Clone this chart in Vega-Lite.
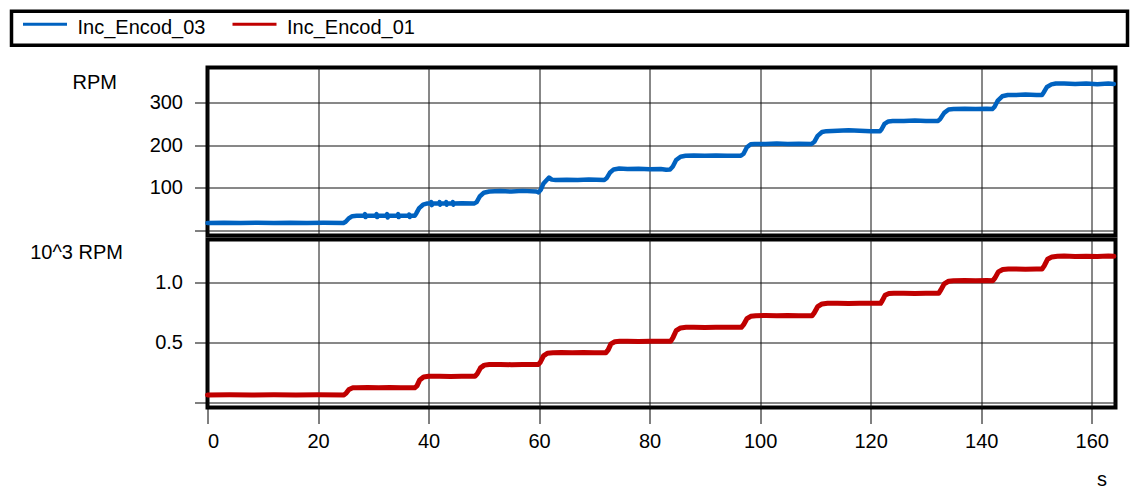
{
  "$schema": "https://vega.github.io/schema/vega-lite/v6.json",
  "padding": {"left": 9.5, "top": 9.5, "right": 0, "bottom": 0},
  "background": "white",
  "config": {
    "font": "Liberation Sans",
    "view": {"stroke": "#000", "strokeWidth": 4},
    "axis": {
      "labelFont": "Liberation Sans", "labelFontSize": 20, "labelColor": "#000",
      "titleFont": "Liberation Sans", "titleFontSize": 20, "titleFontWeight": "normal", "titleColor": "#000",
      "tickColor": "#000", "tickWidth": 1, "gridColor": "#111", "gridOpacity": 1, "gridWidth": 1,
      "domain": false
    },
    "legend": {
      "labelFont": "Liberation Sans", "labelFontSize": 20, "labelColor": "#000",
      "titleFont": "Liberation Sans", "titleFontSize": 20
    },
    "concat": {"spacing": 0}
  },
  "datasets": {
    "enc03": [
      {"series": "Inc_Encod_03", "t": 0, "rpm": 17}, {"series": "Inc_Encod_03", "t": 3, "rpm": 17.5}, {"series": "Inc_Encod_03", "t": 6, "rpm": 16.8}, {"series": "Inc_Encod_03", "t": 9, "rpm": 17.4}, {"series": "Inc_Encod_03", "t": 12, "rpm": 17}, {"series": "Inc_Encod_03", "t": 15, "rpm": 17.6}, {"series": "Inc_Encod_03", "t": 18, "rpm": 16.9}, {"series": "Inc_Encod_03", "t": 21, "rpm": 17.3}, {"series": "Inc_Encod_03", "t": 24.6, "rpm": 17},
      {"series": "Inc_Encod_03", "t": 25.0, "rpm": 20}, {"series": "Inc_Encod_03", "t": 25.5, "rpm": 27}, {"series": "Inc_Encod_03", "t": 26.2, "rpm": 33}, {"series": "Inc_Encod_03", "t": 27, "rpm": 34},
      {"series": "Inc_Encod_03", "t": 28.4, "rpm": 34}, {"series": "Inc_Encod_03", "t": 28.5, "rpm": 38}, {"series": "Inc_Encod_03", "t": 28.6, "rpm": 31}, {"series": "Inc_Encod_03", "t": 28.7, "rpm": 34},
      {"series": "Inc_Encod_03", "t": 30.5, "rpm": 34}, {"series": "Inc_Encod_03", "t": 30.6, "rpm": 38}, {"series": "Inc_Encod_03", "t": 30.7, "rpm": 31}, {"series": "Inc_Encod_03", "t": 30.8, "rpm": 34},
      {"series": "Inc_Encod_03", "t": 32.4, "rpm": 34}, {"series": "Inc_Encod_03", "t": 32.5, "rpm": 38}, {"series": "Inc_Encod_03", "t": 32.6, "rpm": 30}, {"series": "Inc_Encod_03", "t": 32.7, "rpm": 34},
      {"series": "Inc_Encod_03", "t": 34.4, "rpm": 34.5}, {"series": "Inc_Encod_03", "t": 34.5, "rpm": 38}, {"series": "Inc_Encod_03", "t": 34.6, "rpm": 31}, {"series": "Inc_Encod_03", "t": 34.7, "rpm": 34},
      {"series": "Inc_Encod_03", "t": 36.4, "rpm": 34}, {"series": "Inc_Encod_03", "t": 36.5, "rpm": 37}, {"series": "Inc_Encod_03", "t": 36.6, "rpm": 31}, {"series": "Inc_Encod_03", "t": 36.7, "rpm": 34}, {"series": "Inc_Encod_03", "t": 37.5, "rpm": 34},
      {"series": "Inc_Encod_03", "t": 37.8, "rpm": 40}, {"series": "Inc_Encod_03", "t": 38.3, "rpm": 52}, {"series": "Inc_Encod_03", "t": 39, "rpm": 60}, {"series": "Inc_Encod_03", "t": 39.8, "rpm": 63},
      {"series": "Inc_Encod_03", "t": 40.4, "rpm": 63}, {"series": "Inc_Encod_03", "t": 40.5, "rpm": 66}, {"series": "Inc_Encod_03", "t": 40.6, "rpm": 59}, {"series": "Inc_Encod_03", "t": 40.7, "rpm": 63},
      {"series": "Inc_Encod_03", "t": 41.9, "rpm": 63}, {"series": "Inc_Encod_03", "t": 42, "rpm": 66}, {"series": "Inc_Encod_03", "t": 42.1, "rpm": 60}, {"series": "Inc_Encod_03", "t": 42.2, "rpm": 63},
      {"series": "Inc_Encod_03", "t": 43.1, "rpm": 63}, {"series": "Inc_Encod_03", "t": 43.2, "rpm": 66}, {"series": "Inc_Encod_03", "t": 43.3, "rpm": 60}, {"series": "Inc_Encod_03", "t": 43.4, "rpm": 63},
      {"series": "Inc_Encod_03", "t": 44.3, "rpm": 63}, {"series": "Inc_Encod_03", "t": 44.4, "rpm": 66}, {"series": "Inc_Encod_03", "t": 44.5, "rpm": 60}, {"series": "Inc_Encod_03", "t": 44.6, "rpm": 63},
      {"series": "Inc_Encod_03", "t": 46, "rpm": 63.5}, {"series": "Inc_Encod_03", "t": 48.3, "rpm": 63},
      {"series": "Inc_Encod_03", "t": 48.7, "rpm": 66}, {"series": "Inc_Encod_03", "t": 49.3, "rpm": 80}, {"series": "Inc_Encod_03", "t": 50, "rpm": 88}, {"series": "Inc_Encod_03", "t": 51, "rpm": 91},
      {"series": "Inc_Encod_03", "t": 53, "rpm": 92}, {"series": "Inc_Encod_03", "t": 55, "rpm": 91}, {"series": "Inc_Encod_03", "t": 57, "rpm": 92.5}, {"series": "Inc_Encod_03", "t": 59.5, "rpm": 91}, {"series": "Inc_Encod_03", "t": 59.9, "rpm": 89},
      {"series": "Inc_Encod_03", "t": 60.3, "rpm": 95}, {"series": "Inc_Encod_03", "t": 60.8, "rpm": 110}, {"series": "Inc_Encod_03", "t": 61.3, "rpm": 117}, {"series": "Inc_Encod_03", "t": 61.8, "rpm": 124}, {"series": "Inc_Encod_03", "t": 62.3, "rpm": 119},
      {"series": "Inc_Encod_03", "t": 63, "rpm": 118}, {"series": "Inc_Encod_03", "t": 65, "rpm": 118.5}, {"series": "Inc_Encod_03", "t": 67, "rpm": 118}, {"series": "Inc_Encod_03", "t": 69, "rpm": 119}, {"series": "Inc_Encod_03", "t": 71.8, "rpm": 118},
      {"series": "Inc_Encod_03", "t": 72.2, "rpm": 122}, {"series": "Inc_Encod_03", "t": 72.8, "rpm": 135}, {"series": "Inc_Encod_03", "t": 73.5, "rpm": 143}, {"series": "Inc_Encod_03", "t": 74.5, "rpm": 145},
      {"series": "Inc_Encod_03", "t": 76, "rpm": 144}, {"series": "Inc_Encod_03", "t": 78, "rpm": 144.5}, {"series": "Inc_Encod_03", "t": 80, "rpm": 143.5}, {"series": "Inc_Encod_03", "t": 82, "rpm": 144}, {"series": "Inc_Encod_03", "t": 83, "rpm": 142}, {"series": "Inc_Encod_03", "t": 83.7, "rpm": 143},
      {"series": "Inc_Encod_03", "t": 84.2, "rpm": 150}, {"series": "Inc_Encod_03", "t": 84.8, "rpm": 165}, {"series": "Inc_Encod_03", "t": 85.6, "rpm": 173}, {"series": "Inc_Encod_03", "t": 86.5, "rpm": 175},
      {"series": "Inc_Encod_03", "t": 88, "rpm": 176}, {"series": "Inc_Encod_03", "t": 90, "rpm": 175}, {"series": "Inc_Encod_03", "t": 92, "rpm": 176}, {"series": "Inc_Encod_03", "t": 94, "rpm": 175}, {"series": "Inc_Encod_03", "t": 96.5, "rpm": 175},
      {"series": "Inc_Encod_03", "t": 97, "rpm": 180}, {"series": "Inc_Encod_03", "t": 97.6, "rpm": 195}, {"series": "Inc_Encod_03", "t": 98.3, "rpm": 202}, {"series": "Inc_Encod_03", "t": 99, "rpm": 203},
      {"series": "Inc_Encod_03", "t": 101, "rpm": 203}, {"series": "Inc_Encod_03", "t": 103, "rpm": 204}, {"series": "Inc_Encod_03", "t": 105, "rpm": 203}, {"series": "Inc_Encod_03", "t": 107, "rpm": 203.5}, {"series": "Inc_Encod_03", "t": 109.3, "rpm": 203},
      {"series": "Inc_Encod_03", "t": 109.8, "rpm": 208}, {"series": "Inc_Encod_03", "t": 110.4, "rpm": 222}, {"series": "Inc_Encod_03", "t": 111.2, "rpm": 231}, {"series": "Inc_Encod_03", "t": 112, "rpm": 233},
      {"series": "Inc_Encod_03", "t": 114, "rpm": 234}, {"series": "Inc_Encod_03", "t": 116, "rpm": 235}, {"series": "Inc_Encod_03", "t": 118, "rpm": 234}, {"series": "Inc_Encod_03", "t": 120, "rpm": 233}, {"series": "Inc_Encod_03", "t": 121.7, "rpm": 233},
      {"series": "Inc_Encod_03", "t": 122, "rpm": 238}, {"series": "Inc_Encod_03", "t": 122.5, "rpm": 250}, {"series": "Inc_Encod_03", "t": 123.2, "rpm": 256}, {"series": "Inc_Encod_03", "t": 124, "rpm": 257},
      {"series": "Inc_Encod_03", "t": 126, "rpm": 257}, {"series": "Inc_Encod_03", "t": 128, "rpm": 258}, {"series": "Inc_Encod_03", "t": 130, "rpm": 257}, {"series": "Inc_Encod_03", "t": 132.2, "rpm": 257},
      {"series": "Inc_Encod_03", "t": 132.6, "rpm": 262}, {"series": "Inc_Encod_03", "t": 133.3, "rpm": 276}, {"series": "Inc_Encod_03", "t": 134.1, "rpm": 284}, {"series": "Inc_Encod_03", "t": 135, "rpm": 285},
      {"series": "Inc_Encod_03", "t": 137, "rpm": 286}, {"series": "Inc_Encod_03", "t": 139, "rpm": 285}, {"series": "Inc_Encod_03", "t": 141, "rpm": 285.5}, {"series": "Inc_Encod_03", "t": 142, "rpm": 285},
      {"series": "Inc_Encod_03", "t": 142.4, "rpm": 290}, {"series": "Inc_Encod_03", "t": 143, "rpm": 305}, {"series": "Inc_Encod_03", "t": 143.8, "rpm": 315}, {"series": "Inc_Encod_03", "t": 144.8, "rpm": 318},
      {"series": "Inc_Encod_03", "t": 146, "rpm": 318}, {"series": "Inc_Encod_03", "t": 148, "rpm": 319}, {"series": "Inc_Encod_03", "t": 150, "rpm": 318}, {"series": "Inc_Encod_03", "t": 151, "rpm": 318},
      {"series": "Inc_Encod_03", "t": 151.3, "rpm": 324}, {"series": "Inc_Encod_03", "t": 151.9, "rpm": 337}, {"series": "Inc_Encod_03", "t": 152.7, "rpm": 343}, {"series": "Inc_Encod_03", "t": 153.5, "rpm": 345},
      {"series": "Inc_Encod_03", "t": 155, "rpm": 345}, {"series": "Inc_Encod_03", "t": 157, "rpm": 344}, {"series": "Inc_Encod_03", "t": 159, "rpm": 345}, {"series": "Inc_Encod_03", "t": 161, "rpm": 343.5}, {"series": "Inc_Encod_03", "t": 163, "rpm": 345}, {"series": "Inc_Encod_03", "t": 164, "rpm": 344}
    ],
    "enc01": [
      {"series": "Inc_Encod_01", "t": 0, "krpm": 0.065}, {"series": "Inc_Encod_01", "t": 4, "krpm": 0.066}, {"series": "Inc_Encod_01", "t": 8, "krpm": 0.064}, {"series": "Inc_Encod_01", "t": 12, "krpm": 0.066}, {"series": "Inc_Encod_01", "t": 16, "krpm": 0.065}, {"series": "Inc_Encod_01", "t": 20, "krpm": 0.066}, {"series": "Inc_Encod_01", "t": 24.7, "krpm": 0.065},
      {"series": "Inc_Encod_01", "t": 25.1, "krpm": 0.08}, {"series": "Inc_Encod_01", "t": 25.6, "krpm": 0.11}, {"series": "Inc_Encod_01", "t": 26.3, "krpm": 0.124}, {"series": "Inc_Encod_01", "t": 27, "krpm": 0.125},
      {"series": "Inc_Encod_01", "t": 29, "krpm": 0.126}, {"series": "Inc_Encod_01", "t": 31, "krpm": 0.124}, {"series": "Inc_Encod_01", "t": 33, "krpm": 0.126}, {"series": "Inc_Encod_01", "t": 35, "krpm": 0.125}, {"series": "Inc_Encod_01", "t": 37.5, "krpm": 0.125},
      {"series": "Inc_Encod_01", "t": 37.9, "krpm": 0.14}, {"series": "Inc_Encod_01", "t": 38.4, "krpm": 0.19}, {"series": "Inc_Encod_01", "t": 39.1, "krpm": 0.215}, {"series": "Inc_Encod_01", "t": 40, "krpm": 0.22},
      {"series": "Inc_Encod_01", "t": 42, "krpm": 0.221}, {"series": "Inc_Encod_01", "t": 44, "krpm": 0.219}, {"series": "Inc_Encod_01", "t": 46, "krpm": 0.221}, {"series": "Inc_Encod_01", "t": 48.4, "krpm": 0.22},
      {"series": "Inc_Encod_01", "t": 48.8, "krpm": 0.24}, {"series": "Inc_Encod_01", "t": 49.4, "krpm": 0.29}, {"series": "Inc_Encod_01", "t": 50.1, "krpm": 0.313}, {"series": "Inc_Encod_01", "t": 51, "krpm": 0.318},
      {"series": "Inc_Encod_01", "t": 53, "krpm": 0.319}, {"series": "Inc_Encod_01", "t": 55, "krpm": 0.317}, {"series": "Inc_Encod_01", "t": 57, "krpm": 0.319}, {"series": "Inc_Encod_01", "t": 59.8, "krpm": 0.318},
      {"series": "Inc_Encod_01", "t": 60.2, "krpm": 0.335}, {"series": "Inc_Encod_01", "t": 60.8, "krpm": 0.39}, {"series": "Inc_Encod_01", "t": 61.5, "krpm": 0.412}, {"series": "Inc_Encod_01", "t": 62.5, "krpm": 0.417},
      {"series": "Inc_Encod_01", "t": 64, "krpm": 0.418}, {"series": "Inc_Encod_01", "t": 66, "krpm": 0.416}, {"series": "Inc_Encod_01", "t": 68, "krpm": 0.418}, {"series": "Inc_Encod_01", "t": 70, "krpm": 0.417}, {"series": "Inc_Encod_01", "t": 72.1, "krpm": 0.417},
      {"series": "Inc_Encod_01", "t": 72.5, "krpm": 0.44}, {"series": "Inc_Encod_01", "t": 73, "krpm": 0.49}, {"series": "Inc_Encod_01", "t": 73.7, "krpm": 0.508}, {"series": "Inc_Encod_01", "t": 74.6, "krpm": 0.512},
      {"series": "Inc_Encod_01", "t": 76, "krpm": 0.513}, {"series": "Inc_Encod_01", "t": 78, "krpm": 0.511}, {"series": "Inc_Encod_01", "t": 80, "krpm": 0.513}, {"series": "Inc_Encod_01", "t": 82, "krpm": 0.512}, {"series": "Inc_Encod_01", "t": 83.8, "krpm": 0.512},
      {"series": "Inc_Encod_01", "t": 84.2, "krpm": 0.54}, {"series": "Inc_Encod_01", "t": 84.8, "krpm": 0.6}, {"series": "Inc_Encod_01", "t": 85.6, "krpm": 0.623}, {"series": "Inc_Encod_01", "t": 86.6, "krpm": 0.628},
      {"series": "Inc_Encod_01", "t": 88, "krpm": 0.629}, {"series": "Inc_Encod_01", "t": 90, "krpm": 0.627}, {"series": "Inc_Encod_01", "t": 92, "krpm": 0.629}, {"series": "Inc_Encod_01", "t": 94, "krpm": 0.628}, {"series": "Inc_Encod_01", "t": 96.6, "krpm": 0.628},
      {"series": "Inc_Encod_01", "t": 97, "krpm": 0.65}, {"series": "Inc_Encod_01", "t": 97.6, "krpm": 0.7}, {"series": "Inc_Encod_01", "t": 98.3, "krpm": 0.72}, {"series": "Inc_Encod_01", "t": 99.2, "krpm": 0.725},
      {"series": "Inc_Encod_01", "t": 101, "krpm": 0.726}, {"series": "Inc_Encod_01", "t": 103, "krpm": 0.724}, {"series": "Inc_Encod_01", "t": 105, "krpm": 0.726}, {"series": "Inc_Encod_01", "t": 107, "krpm": 0.725}, {"series": "Inc_Encod_01", "t": 109.4, "krpm": 0.725},
      {"series": "Inc_Encod_01", "t": 109.8, "krpm": 0.75}, {"series": "Inc_Encod_01", "t": 110.4, "krpm": 0.8}, {"series": "Inc_Encod_01", "t": 111.2, "krpm": 0.823}, {"series": "Inc_Encod_01", "t": 112.2, "krpm": 0.828},
      {"series": "Inc_Encod_01", "t": 114, "krpm": 0.829}, {"series": "Inc_Encod_01", "t": 116, "krpm": 0.827}, {"series": "Inc_Encod_01", "t": 118, "krpm": 0.829}, {"series": "Inc_Encod_01", "t": 120, "krpm": 0.828}, {"series": "Inc_Encod_01", "t": 121.8, "krpm": 0.828},
      {"series": "Inc_Encod_01", "t": 122.1, "krpm": 0.85}, {"series": "Inc_Encod_01", "t": 122.6, "krpm": 0.895}, {"series": "Inc_Encod_01", "t": 123.3, "krpm": 0.91}, {"series": "Inc_Encod_01", "t": 124.2, "krpm": 0.912},
      {"series": "Inc_Encod_01", "t": 126, "krpm": 0.913}, {"series": "Inc_Encod_01", "t": 128, "krpm": 0.911}, {"series": "Inc_Encod_01", "t": 130, "krpm": 0.913}, {"series": "Inc_Encod_01", "t": 132.3, "krpm": 0.912},
      {"series": "Inc_Encod_01", "t": 132.7, "krpm": 0.94}, {"series": "Inc_Encod_01", "t": 133.3, "krpm": 0.99}, {"series": "Inc_Encod_01", "t": 134.1, "krpm": 1.012}, {"series": "Inc_Encod_01", "t": 135, "krpm": 1.017},
      {"series": "Inc_Encod_01", "t": 137, "krpm": 1.018}, {"series": "Inc_Encod_01", "t": 139, "krpm": 1.016}, {"series": "Inc_Encod_01", "t": 141, "krpm": 1.018}, {"series": "Inc_Encod_01", "t": 142.1, "krpm": 1.017},
      {"series": "Inc_Encod_01", "t": 142.5, "krpm": 1.04}, {"series": "Inc_Encod_01", "t": 143.1, "krpm": 1.09}, {"series": "Inc_Encod_01", "t": 143.9, "krpm": 1.11}, {"series": "Inc_Encod_01", "t": 144.9, "krpm": 1.114},
      {"series": "Inc_Encod_01", "t": 146, "krpm": 1.115}, {"series": "Inc_Encod_01", "t": 148, "krpm": 1.113}, {"series": "Inc_Encod_01", "t": 150, "krpm": 1.115}, {"series": "Inc_Encod_01", "t": 151, "krpm": 1.114},
      {"series": "Inc_Encod_01", "t": 151.4, "krpm": 1.14}, {"series": "Inc_Encod_01", "t": 152, "krpm": 1.195}, {"series": "Inc_Encod_01", "t": 152.8, "krpm": 1.215}, {"series": "Inc_Encod_01", "t": 153.8, "krpm": 1.22},
      {"series": "Inc_Encod_01", "t": 155, "krpm": 1.222}, {"series": "Inc_Encod_01", "t": 157, "krpm": 1.218}, {"series": "Inc_Encod_01", "t": 159, "krpm": 1.221}, {"series": "Inc_Encod_01", "t": 161, "krpm": 1.219}, {"series": "Inc_Encod_01", "t": 163, "krpm": 1.222}, {"series": "Inc_Encod_01", "t": 164, "krpm": 1.22}
    ]
  },
  "resolve": {"scale": {"color": "shared"}, "legend": {"color": "shared"}},
  "vconcat": [
    {
      "width": 908,
      "height": 168,
      "data": {"name": "enc03"},
      "mark": {"type": "line", "strokeWidth": 4.5, "strokeJoin": "round", "strokeCap": "round"},
      "encoding": {
        "x": {
          "field": "t", "type": "quantitative",
          "scale": {"domain": [0, 164.3], "nice": false, "zero": false},
          "axis": {"values": [0, 20, 40, 60, 80, 100, 120, 140, 160], "labels": false, "ticks": false, "domain": false, "title": null, "grid": true}
        },
        "y": {
          "field": "rpm", "type": "quantitative",
          "scale": {"domain": [-12.5, 382.8], "nice": false, "zero": false},
          "axis": {
            "values": [0, 100, 200, 300],
            "labelExpr": "datum.value == 0 ? '' : datum.label",
            "tickSize": 13, "labelPadding": 12, "grid": true,
            "title": "RPM", "titleAngle": 0, "titleAlign": "right", "titleBaseline": "alphabetic",
            "titleX": -91, "titleY": 21
          }
        },
        "color": {
          "field": "series", "type": "nominal",
          "scale": {"domain": ["Inc_Encod_03", "Inc_Encod_01"], "range": ["#0062C0", "#C00000"]},
          "legend": {
            "orient": "none", "legendX": -196, "legendY": -56.25, "direction": "horizontal",
            "symbolType": "M-1,-0.18H1", "symbolSize": 1936, "symbolStrokeWidth": 3, "symbolOffset": 3,
            "clipHeight": 20,
            "labelOffset": 9, "columnPadding": 22.5, "padding": 7,
            "strokeColor": "#000",
            "title": " ", "titleOrient": "right", "titlePadding": 706,
            "encode": {"legend": {"update": {"strokeWidth": {"value": 3.5}}}}
          }
        }
      }
    },
    {
      "width": 908,
      "height": 168,
      "data": {"name": "enc01"},
      "mark": {"type": "line", "strokeWidth": 5, "strokeJoin": "round", "strokeCap": "round"},
      "encoding": {
        "x": {
          "field": "t", "type": "quantitative",
          "scale": {"domain": [0, 164.3], "nice": false, "zero": false},
          "axis": {
            "values": [0, 20, 40, 60, 80, 100, 120, 140, 160], "format": "d",
            "tickSize": 16, "labelPadding": 8, "grid": true,
            "title": "s", "titleAlign": "center", "titleBaseline": "alphabetic", "titleX": 894, "titleY": 78
          }
        },
        "y": {
          "field": "krpm", "type": "quantitative",
          "scale": {"domain": [-0.04, 1.36], "nice": false, "zero": false},
          "axis": {
            "values": [0, 0.5, 1.0], "format": ".1f",
            "labelExpr": "datum.value == 0 ? '' : datum.label",
            "tickSize": 13, "labelPadding": 12, "grid": true,
            "title": "10^3 RPM", "titleAngle": 0, "titleAlign": "right", "titleBaseline": "alphabetic",
            "titleX": -85, "titleY": 19
          }
        },
        "color": {
          "field": "series", "type": "nominal",
          "scale": {"domain": ["Inc_Encod_03", "Inc_Encod_01"], "range": ["#0062C0", "#C00000"]},
          "legend": {
            "orient": "none", "legendX": -196, "legendY": -56.25, "direction": "horizontal",
            "symbolType": "M-1,-0.18H1", "symbolSize": 1936, "symbolStrokeWidth": 3, "symbolOffset": 3,
            "clipHeight": 20,
            "labelOffset": 9, "columnPadding": 22.5, "padding": 7,
            "strokeColor": "#000",
            "title": " ", "titleOrient": "right", "titlePadding": 706,
            "encode": {"legend": {"update": {"strokeWidth": {"value": 3.5}}}}
          }
        }
      }
    }
  ]
}
